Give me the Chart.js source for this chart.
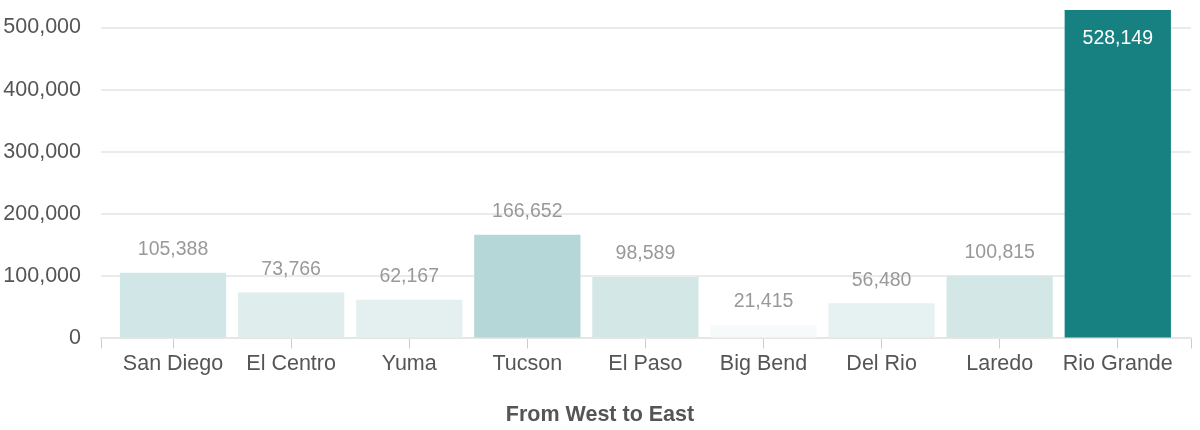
<!DOCTYPE html>
<html>
<head>
<meta charset="utf-8">
<script src="https://cdn.jsdelivr.net/npm/chart.js@4/dist/chart.umd.min.js"></script>
<style>
  html, body { margin: 0; padding: 0; background: #fff; }
  #wrap { width: 1200px; height: 430px; }
</style>
</head>
<body>
<div id="wrap"><canvas id="c" width="1200" height="430"></canvas></div>
<script>
const categories = ["San Diego", "El Centro", "Yuma", "Tucson", "El Paso", "Big Bend", "Del Rio", "Laredo", "Rio Grande"];
const values = [105388, 73766, 62167, 166652, 98589, 21415, 56480, 100815, 528149];
const yTicks = [0, 100000, 200000, 300000, 400000, 500000];
const axisTitle = "From West to East";

const maxVal = Math.max(...values);
const fmt = v => v.toLocaleString('en-US');
const BASE = [23, 128, 128];
// opaque shade of the base teal, mixed with white in proportion to the value
const colors = values.map(v => {
  const a = v / maxVal;
  const c = BASE.map(ch => Math.round(255 - a * (255 - ch)));
  return `rgb(${c[0]},${c[1]},${c[2]})`;
});
const FONT = "'Liberation Sans', Arial, Helvetica, sans-serif";

const X_MIN = -0.61, X_MAX = 8.62;
// smallest gap between x ticks (bounds included) drives Chart.js bar sizing
const MIN_GAP = Math.min(0 - X_MIN, X_MAX - (categories.length - 1), 1);

const labelPlugin = {
  id: 'valueLabels',
  afterDatasetsDraw(chart) {
    const ctx = chart.ctx;
    const meta = chart.getDatasetMeta(0);
    ctx.save();
    ctx.font = `19.5px ${FONT}`;
    ctx.textAlign = 'center';
    ctx.textBaseline = 'middle';
    meta.data.forEach((bar, i) => {
      const v = values[i];
      if (v === maxVal) {
        ctx.fillStyle = '#ffffff';
        ctx.fillText(fmt(v), bar.x, bar.y + 29);
      } else {
        ctx.fillStyle = '#999999';
        ctx.fillText(fmt(v), bar.x, bar.y - 23);
      }
    });
    ctx.restore();
  }
};

new Chart(document.getElementById('c'), {
  type: 'bar',
  data: {
    datasets: [{
      data: categories.map((c, i) => ({ x: i, y: values[i] })),
      backgroundColor: colors,
      borderWidth: 0,
      categoryPercentage: 1,
      barPercentage: 0.9 / MIN_GAP
    }]
  },
  options: {
    responsive: false,
    animation: false,
    devicePixelRatio: 1,
    layout: { padding: { top: 10, right: 0, left: 0, bottom: 2 } },
    plugins: {
      legend: { display: false },
      tooltip: { enabled: false },
      title: {
        display: true,
        position: 'bottom',
        text: axisTitle,
        color: '#555555',
        font: { family: FONT, size: 21.5, weight: 'bold', lineHeight: 1.2 },
        padding: { top: 22, bottom: 0 }
      }
    },
    scales: {
      x: {
        type: 'linear',
        min: X_MIN,
        max: X_MAX,
        offset: false,
        afterBuildTicks(scale) {
          scale.ticks = [X_MIN, ...categories.map((c, i) => i), X_MAX].map(v => ({ value: v }));
        },
        afterFit(scale) {
          scale.paddingLeft = 0;
          scale.paddingRight = 9;
        },
        ticks: {
          autoSkip: false,
          maxRotation: 0,
          minRotation: 0,
          color: '#555555',
          font: { family: FONT, size: 21.5 },
          padding: 3,
          callback: (v) => Number.isInteger(v) && v >= 0 && v < categories.length ? categories[v] : ''
        },
        grid: {
          offset: false,
          drawOnChartArea: false,
          drawTicks: true,
          tickLength: 10,
          color: '#cccccc'
        },
        border: { display: true, color: '#e6e6e6', width: 2 }
      },
      y: {
        min: 0,
        max: maxVal,
        afterBuildTicks(scale) {
          scale.ticks = yTicks.map(v => ({ value: v }));
        },
        afterFit(scale) {
          scale.width = 101;
          scale.paddingTop = 0;
          scale.paddingBottom = 0;
        },
        ticks: {
          color: '#555555',
          font: { family: FONT, size: 21.5 },
          padding: 20,
          callback: v => fmt(v)
        },
        grid: {
          drawTicks: false,
          color: '#ebebeb',
          lineWidth: 2
        },
        border: { display: false }
      }
    }
  },
  plugins: [labelPlugin]
});
</script>
</body>
</html>
